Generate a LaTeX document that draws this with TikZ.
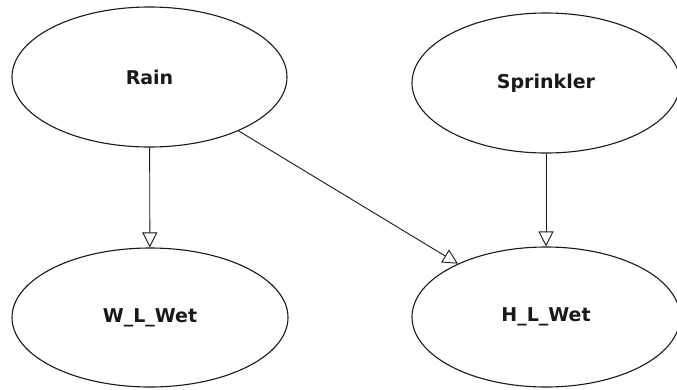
\documentclass[tikz,border=0pt]{standalone}
\usepackage{fontspec}
\setmainfont{DejaVu Sans}
\usetikzlibrary{arrows.meta,shapes.geometric}
\begin{document}
\begin{tikzpicture}[x=1pt,y=-1pt,
  var/.style={draw=black!90, line width=1.1pt, ellipse, inner sep=0pt,
    font=\fontsize{19}{22}\selectfont\bfseries, text=black!90},
  link/.style={draw=black!90, line width=0.9pt,
    -{Triangle[open, length=15pt, width=15pt, fill=white]}}]
  \useasboundingbox (0,0) rectangle (677,389);
  \node[var, minimum width=275pt, minimum height=140pt] (rain) at (149.5,77) {Rain};
  \node[var, minimum width=268pt, minimum height=140pt] (sprinkler) at (546,83) {Sprinkler};
  \node[var, minimum width=276pt, minimum height=139pt] (wlwet) at (150,317.5) {W\_L\_Wet};
  \node[var, minimum width=268pt, minimum height=140pt] (hlwet) at (546,317) {H\_L\_Wet};
  \draw[link] (rain) -- (wlwet);
  \draw[link] (rain) -- (hlwet);
  \draw[link] (sprinkler) -- (hlwet);
\end{tikzpicture}
\end{document}
